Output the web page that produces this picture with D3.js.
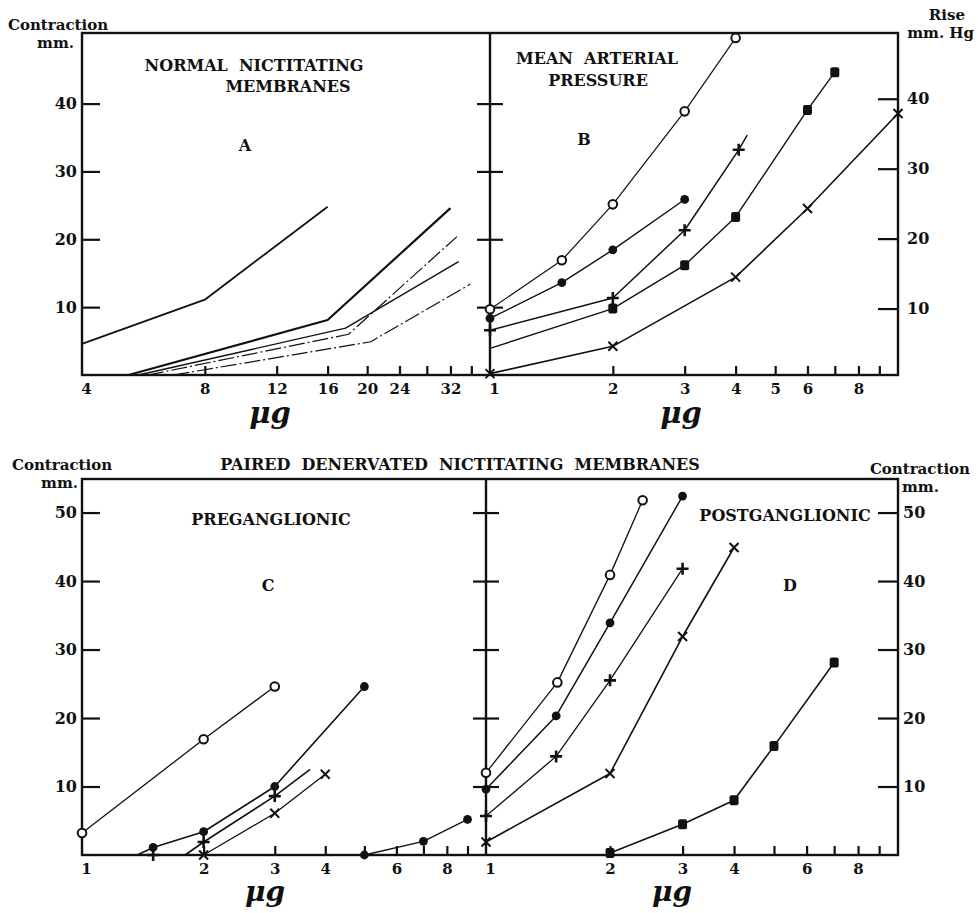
<!DOCTYPE html>
<html><head><meta charset="utf-8">
<script src="https://cdn.jsdelivr.net/npm/d3@7"></script>
<style>
html,body{margin:0;padding:0;background:#fff;}
svg{display:block;}
text{font-family:"DejaVu Serif",serif;font-weight:bold;fill:#111;white-space:pre;}
</style></head>
<body>
<script>
// ---------------- DATA ----------------
// tick values / labels
const aTickX = [8,12,16,20,24,28,32,36];
const aLabelX = [4,8,12,16,20,24,32];
const bTickX = [2,3,4,5,6,7,8,9];
const bLabelX = [1,2,3,4,5,6,8];
const cdTickX = [2,3,4,5,6,7,8,9];
const cdLabelX = [1,2,3,4,6,8];
const topTickY = [10,20,30,40];
const botTickY = [10,20,30,40,50];

// Panel A: normal nictitating membranes (µg, contraction mm) – lines only
const A1 = [[4,4.6],[8,11.1],[16,24.8]];
const A2 = [[5.2,0],[16,8.1],[32,24.6]];
const A3 = [[5.5,0],[17.7,6.9],[33.5,16.7]];
const A4 = [[5.8,0],[18,6.0],[33.2,20.4]];
const A5 = [[6.7,0],[20.4,4.9],[35.8,13.4]];

// Panel B: mean arterial pressure (µg, rise mm Hg); third value 0 = no marker
const B_open   = [[1,9.9],[1.5,16.9],[2,24.9],[3,38.2],[4,48.7]];
const B_dot    = [[1,8.6],[1.5,13.7],[2,18.4],[3,25.6]];
const B_plus   = [[1,6.9],[2,11.5],[3,21.2],[4.07,32.7],[4.27,34.8,0]];
const B_square = [[1,4.3,0],[2,10.0],[3,16.2],[4,23.1],[6,38.4],[7,43.8]];
const B_cross  = [[1,0.7],[2,4.6],[4,14.5],[6,24.3],[10,37.9]];

// Panel C: preganglionic denervated (µg, contraction mm)
const C_open   = [[1,3.2],[2,16.9],[3,24.6]];
const C_dot    = [[1.37,0,0],[1.5,1.1],[2,3.4],[3,10.0],[5,24.6]];
const C_plus   = [[1.5,0],[1.8,0,0],[2,1.9],[3,8.6],[3.67,12.5,0]];
const C_cross  = [[2,0],[3,6.1],[4,11.8]];
const C_square = [[5,0],[7,2.0],[9,5.2]];

// Panel D: postganglionic denervated (µg, contraction mm)
const D_open   = [[1,12.0],[1.49,25.2],[2,40.9],[2.4,51.8]];
const D_dot    = [[1,9.6],[1.48,20.3],[2,33.9],[3,52.4]];
const D_plus   = [[1,5.7],[1.48,14.4],[2,25.5],[3,41.8]];
const D_cross  = [[1,1.9],[2,11.9],[3,31.9],[4,44.9]];
const D_square = [[2,0.3],[3,4.5],[4,8.0],[5,15.9],[7,28.1]];

// ---------------- LAYOUT ----------------
const W = 978, H = 913;
const L = 82, R = 898, MIDT = 490, MIDB = 486;
const T1 = 33, B1 = 375, T2 = 479, B2 = 855;

const svg = d3.select("body").append("svg").attr("width", W).attr("height", H);

const xA = d3.scaleLog().domain([4,40]).range([L, MIDT]);
const xB = d3.scaleLog().domain([1,10]).range([MIDT, R]);
const xC = d3.scaleLog().domain([1,10]).range([L, MIDB]);
const xD = d3.scaleLog().domain([1,10]).range([MIDB, R]);
const yA = d3.scaleLinear().domain([0,50.4]).range([B1, T1]);
const yB = d3.scaleLinear().domain([0.5,49.4]).range([B1, T1]);
const yCD = d3.scaleLinear().domain([0,54.9]).range([B2, T2]);

const fmt = d => String(d);

function styleAxis(g, size) {
  g.select(".domain").remove();
  g.selectAll("line").attr("stroke", "#111").attr("stroke-width", 2.2);
  g.selectAll("text").attr("font-family", '"DejaVu Serif", serif')
    .attr("font-weight", "bold").attr("font-size", size).attr("fill", "#111");
}

// bottom axes: tick marks (inside) and labels
function bottomAxis(x, ticks, labels, y) {
  svg.append("g").attr("transform", `translate(0,${y})`)
    .call(d3.axisBottom(x).tickValues(ticks).tickSizeInner(-9).tickSizeOuter(0).tickFormat(""))
    .call(g => styleAxis(g, 15));
  svg.append("g").attr("transform", `translate(0,${y})`)
    .call(d3.axisBottom(x).tickValues(labels).tickSize(0).tickPadding(8).tickFormat(fmt))
    .call(g => {
      styleAxis(g, 15); g.selectAll("line").remove();
      // the first label sits just right of the frame / divider
      g.selectAll("text").filter(d => d === x.domain()[0]).attr("dx", 4);
    });
}
bottomAxis(xA, aTickX, aLabelX, B1);
bottomAxis(xB, bTickX, bLabelX, B1);
bottomAxis(xC, cdTickX, cdLabelX, B2);
bottomAxis(xD, cdTickX, cdLabelX, B2);

// left axes
svg.append("g").attr("transform", `translate(${L},0)`)
  .call(d3.axisLeft(yA).tickValues(topTickY).tickSizeInner(-18).tickSizeOuter(0).tickPadding(5).tickFormat(fmt))
  .call(g => styleAxis(g, 16));
svg.append("g").attr("transform", `translate(${L},0)`)
  .call(d3.axisLeft(yCD).tickValues(botTickY).tickSizeInner(-18).tickSizeOuter(0).tickPadding(5).tickFormat(fmt))
  .call(g => styleAxis(g, 16));
// right axes
svg.append("g").attr("transform", `translate(${R},0)`)
  .call(d3.axisRight(yB).tickValues(topTickY).tickSizeInner(-20).tickSizeOuter(0).tickPadding(9).tickFormat(fmt))
  .call(g => styleAxis(g, 16));
svg.append("g").attr("transform", `translate(${R},0)`)
  .call(d3.axisRight(yCD).tickValues(botTickY).tickSizeInner(-20).tickSizeOuter(0).tickPadding(5).tickFormat(fmt))
  .call(g => styleAxis(g, 16));
// divider ticks (crossing)
svg.append("g").attr("transform", `translate(${MIDT - 13},0)`)
  .call(d3.axisRight(yA).tickValues(topTickY).tickSizeInner(26).tickSizeOuter(0).tickFormat(""))
  .call(g => styleAxis(g, 16));
svg.append("g").attr("transform", `translate(${MIDB - 13},0)`)
  .call(d3.axisRight(yCD).tickValues(botTickY).tickSizeInner(26).tickSizeOuter(0).tickFormat(""))
  .call(g => styleAxis(g, 16));

// frames
const frame = svg.append("g").attr("fill", "none").attr("stroke", "#111").attr("stroke-width", 2.4);
frame.append("rect").attr("x", L).attr("y", T1).attr("width", R - L).attr("height", B1 - T1);
frame.append("line").attr("x1", MIDT).attr("x2", MIDT).attr("y1", T1).attr("y2", B1);
frame.append("rect").attr("x", L).attr("y", T2).attr("width", R - L).attr("height", B2 - T2);
frame.append("line").attr("x1", MIDB).attr("x2", MIDB).attr("y1", T2).attr("y2", B2);

// ---------------- MARKS ----------------
function drawLine(pts, x, y, w, dash) {
  svg.append("path").datum(pts)
    .attr("d", d3.line().x(d => x(d[0])).y(d => y(d[1])))
    .attr("fill", "none").attr("stroke", "#111").attr("stroke-width", w)
    .attr("stroke-linejoin", "round").attr("stroke-dasharray", dash || null);
}
function drawMarkers(pts, x, y, type) {
  const g = svg.append("g");
  pts.filter(d => d[2] !== 0).forEach(d => {
    const px = x(d[0]), py = y(d[1]);
    if (type === "open") g.append("circle").attr("cx", px).attr("cy", py).attr("r", 4.3)
      .attr("fill", "#fff").attr("stroke", "#111").attr("stroke-width", 2);
    else if (type === "dot") g.append("circle").attr("cx", px).attr("cy", py).attr("r", 4.4).attr("fill", "#111");
    else if (type === "square") g.append("rect").attr("x", px - 4.5).attr("y", py - 5).attr("width", 9).attr("height", 10)
      .attr("rx", 2).attr("fill", "#111");
    else if (type === "plus") g.append("path").attr("transform", `translate(${px},${py})`)
      .attr("d", "M-6,0H6M0,-6V6").attr("stroke", "#111").attr("stroke-width", 2.6);
    else if (type === "cross") g.append("path").attr("transform", `translate(${px},${py})`)
      .attr("d", "M-4.5,-4.5L4.5,4.5M-4.5,4.5L4.5,-4.5").attr("stroke", "#111").attr("stroke-width", 2);
  });
}
function series(pts, x, y, type, w, dash) { drawLine(pts, x, y, w, dash); drawMarkers(pts, x, y, type); }

// Panel A
drawLine(A1, xA, yA, 1.8);
drawLine(A2, xA, yA, 2.2);
drawLine(A3, xA, yA, 1.4);
drawLine(A4, xA, yA, 1.2, "16,3,2,3");
drawLine(A5, xA, yA, 1.2, "16,3,2,3");

// Panel B
series(B_open, xB, yB, "open", 1.2);
series(B_dot, xB, yB, "dot", 1.4);
series(B_plus, xB, yB, "plus", 1.5);
series(B_square, xB, yB, "square", 1.4);
series(B_cross, xB, yB, "cross", 1.6);

// Panel C
series(C_open, xC, yCD, "open", 1.3);
series(C_dot, xC, yCD, "dot", 1.6);
series(C_plus, xC, yCD, "plus", 1.6);
series(C_cross, xC, yCD, "cross", 1.3);
series(C_square, xC, yCD, "dot", 1.3);

// Panel D
series(D_open, xD, yCD, "open", 1.3);
series(D_dot, xD, yCD, "dot", 1.5);
series(D_plus, xD, yCD, "plus", 1.3);
series(D_cross, xD, yCD, "cross", 1.6);
series(D_square, xD, yCD, "square", 1.6);

// ---------------- TEXT ----------------
function txt(s, x, y, size, anchor, extra) {
  const t = svg.append("text").attr("x", x).attr("y", y).attr("font-size", size)
    .attr("text-anchor", anchor || "start").text(s);
  if (extra) extra(t);
  return t;
}
txt("Contraction", 8, 30, 15);
txt("mm.", 74, 48, 15, "end");
txt("Rise", 965, 20, 15, "end");
txt("mm. Hg", 974, 38, 15, "end");
txt("NORMAL  NICTITATING", 254, 71, 16, "middle");
txt("MEMBRANES", 288, 92, 16, "middle");
txt("A", 245, 151, 16, "middle");
txt("MEAN  ARTERIAL", 597, 64, 16, "middle");
txt("PRESSURE", 598, 86, 16, "middle");
txt("B", 584, 145, 16, "middle");

txt("Contraction", 12, 470, 15);
txt("mm.", 78, 488, 15, "end");
txt("PAIRED  DENERVATED  NICTITATING  MEMBRANES", 460, 470, 16, "middle");
txt("PREGANGLIONIC", 271, 525, 16, "middle");
txt("C", 268, 591, 16, "middle");
txt("POSTGANGLIONIC", 785, 521, 16, "middle");
txt("D", 790, 591, 16, "middle");
txt("Contraction", 970, 474, 15, "end");
txt("mm.", 902, 492, 15);

const mu = t => t.attr("font-family", '"Liberation Serif", serif').attr("font-style", "italic");
txt("μg", 270, 423, 29, "middle", mu);
txt("μg", 681, 423, 29, "middle", mu);
txt("μg", 265, 901, 28, "middle", mu);
txt("μg", 672, 901, 28, "middle", mu);
</script>
</body></html>
